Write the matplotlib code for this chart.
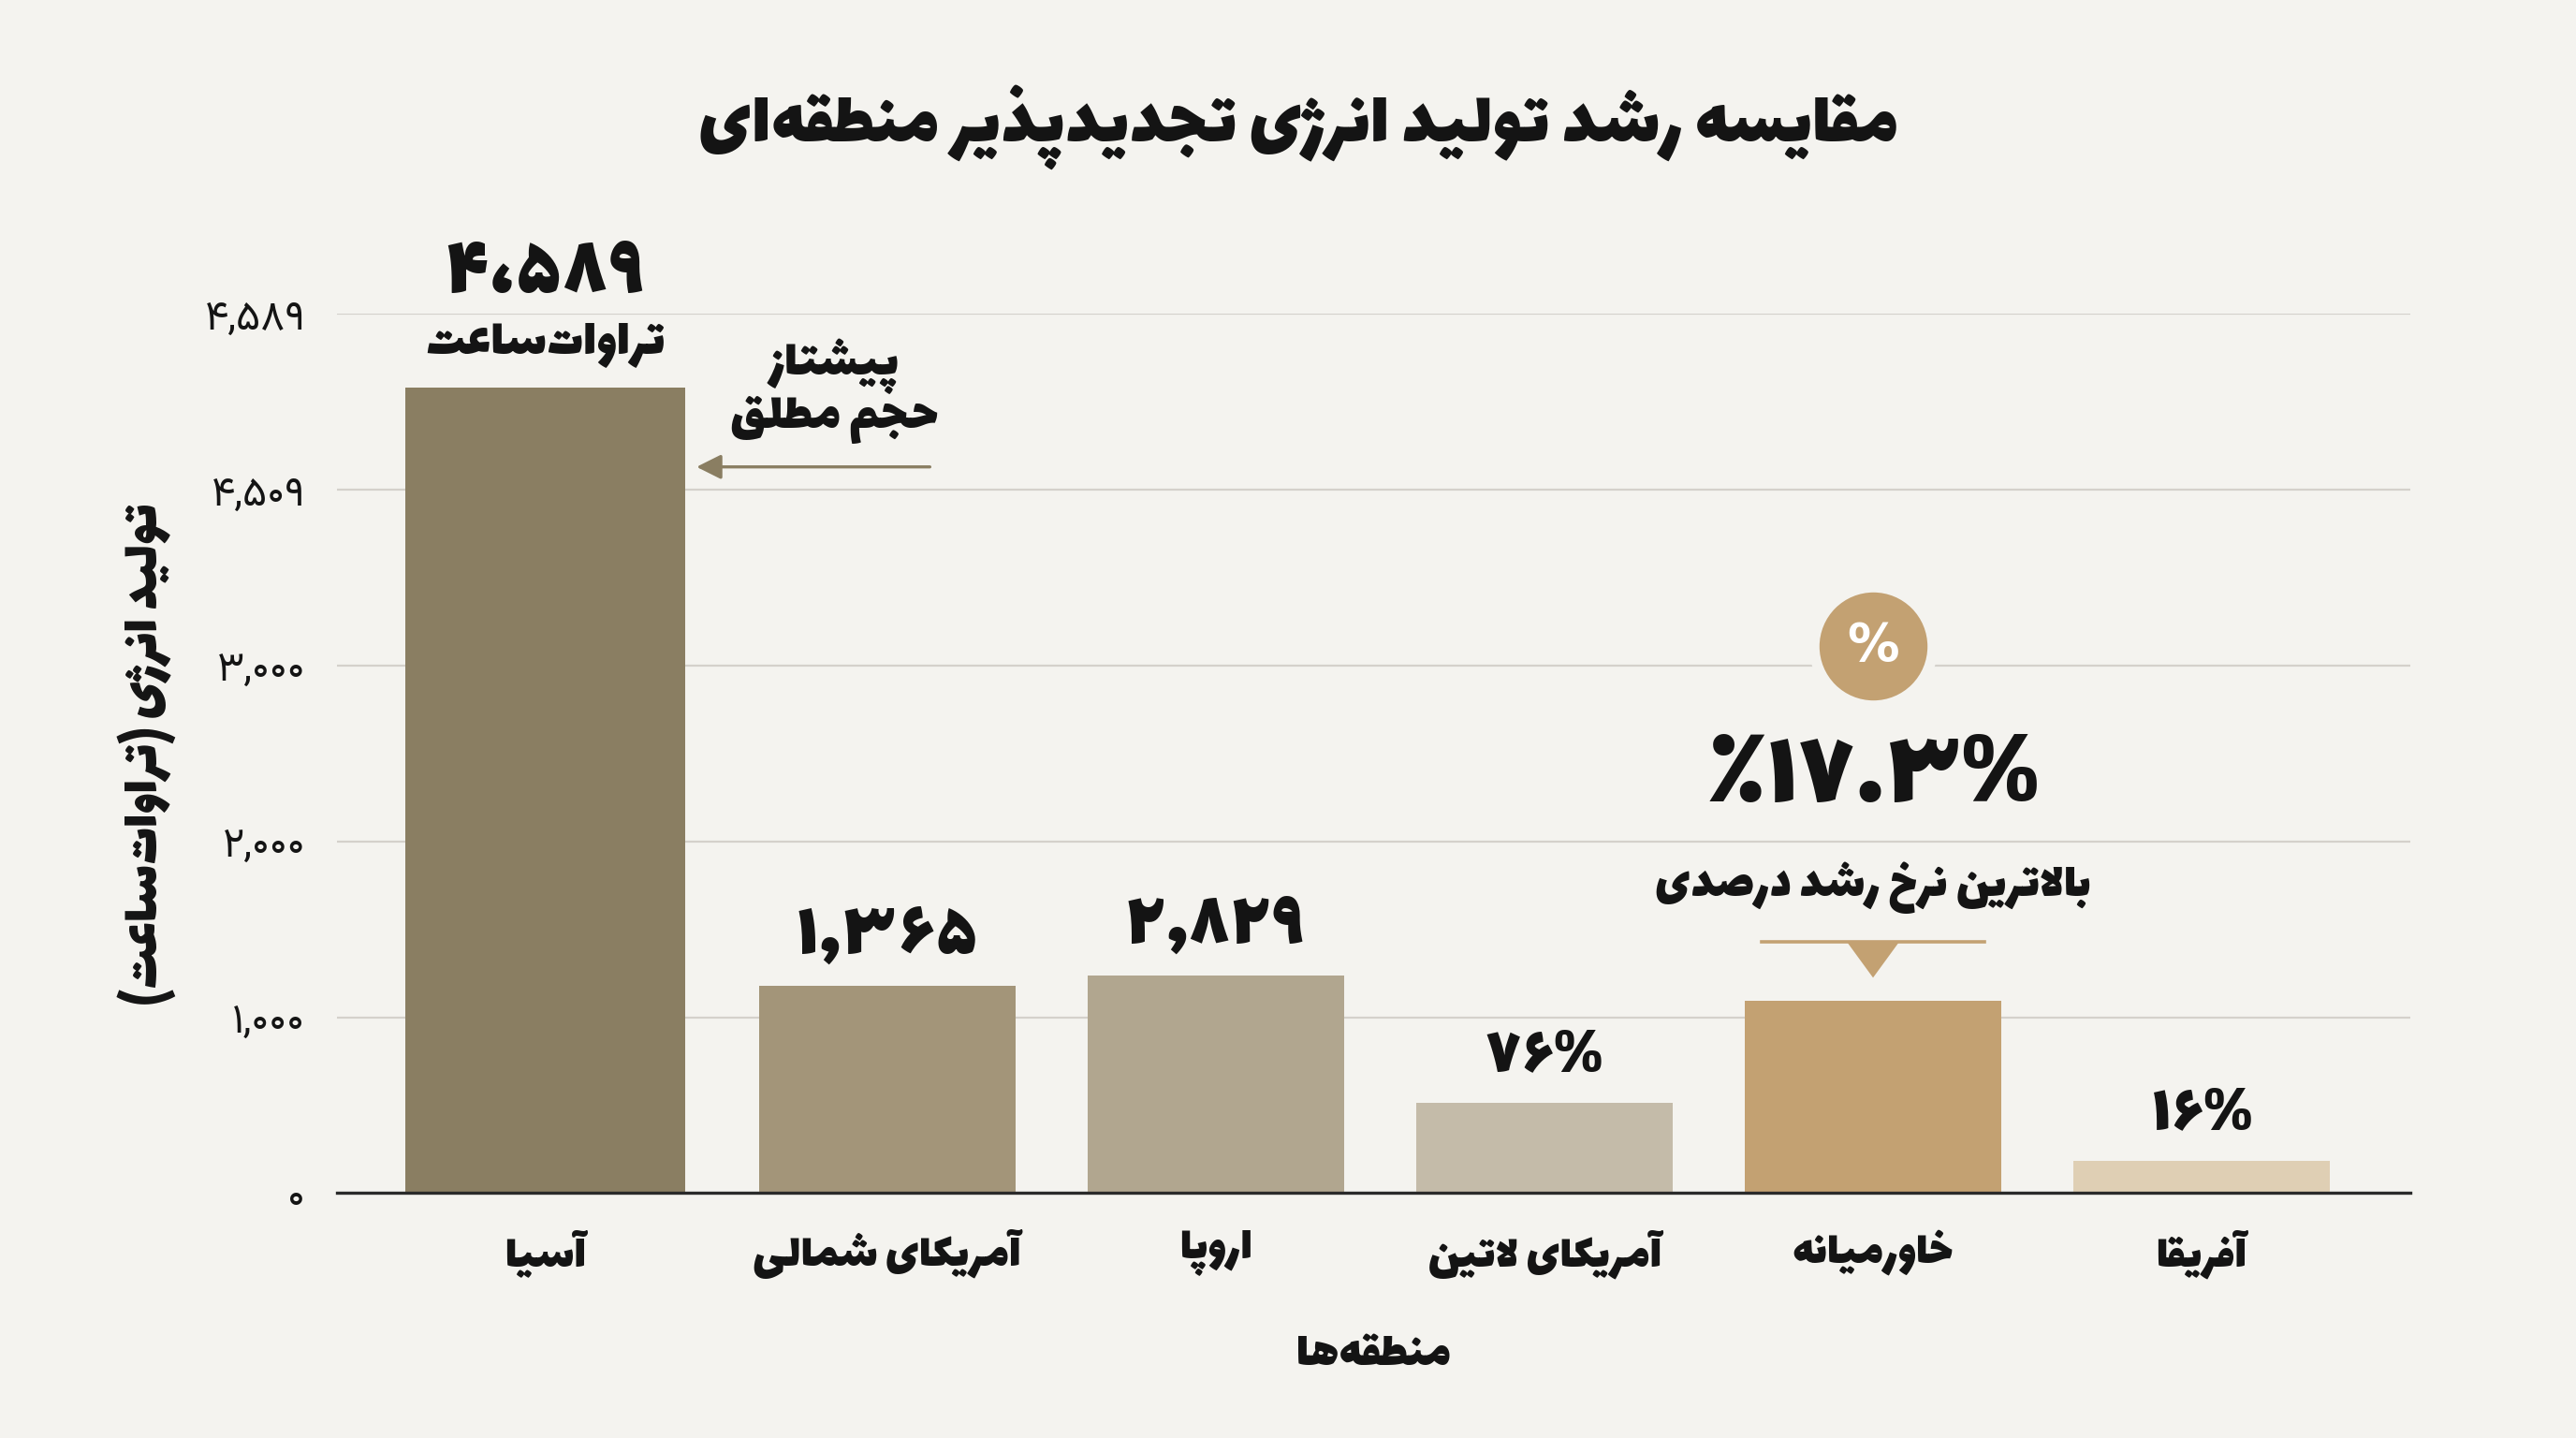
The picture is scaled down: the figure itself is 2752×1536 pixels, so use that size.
import matplotlib
matplotlib.use("Agg")
import matplotlib.pyplot as plt
from matplotlib import font_manager
from matplotlib.ft2font import FT2Font

# --- data -----------------------------------------------------------------
regions = ["آسیا", "آمریکای شمالی", "اروپا", "آمریکای لاتین", "خاورمیانه", "آفریقا"]
bar_heights = [4580, 1180, 1235, 515, 1095, 185]
bar_labels = ["۴،۵۸۹", "۱,۳۶۵", "۲,۸۲۹", "۷۶%", "", "۱۶%"]
bar_colors = ["#8A7E62", "#A39579", "#B1A68F", "#C4BBA9", "#C3A172", "#DFCFB4"]
tick_values = [0, 1000, 2000, 3000, 4000, 5000]
tick_labels = ["۰", "۱,۰۰۰", "۲,۰۰۰", "۳,۰۰۰", "۴,۵۰۹", "۴,۵۸۹"]

title = "مقایسه رشد تولید انرژی تجدیدپذیر منطقه‌ای"
y_title = "تولید انرژی (تراوات‌ساعت)"
x_title = "منطقه‌ها"
unit = "تراوات‌ساعت"
lead_note = ["پیشتاز", "حجم مطلق"]
growth_value = "٪۱۷.۳%"
growth_note = "بالاترین نرخ رشد درصدی"
growth_idx = 4

BG = "#F4F3EF"
INK = "#141414"
HEAVY = ["Lalezar", "DejaVu Sans"]
PLAIN = ["Vazirmatn", "DejaVu Sans"]

# --- minimal Persian shaping: matplotlib has no bidi / joining -------------
FOUR = {"\u0626": 0xFE89, "\u0628": 0xFE8F, "\u062A": 0xFE95, "\u062B": 0xFE99, "\u062C": 0xFE9D,
        "\u062D": 0xFEA1, "\u062E": 0xFEA5, "\u0633": 0xFEB1, "\u0634": 0xFEB5, "\u0635": 0xFEB9,
        "\u0636": 0xFEBD, "\u0637": 0xFEC1, "\u0638": 0xFEC5, "\u0639": 0xFEC9, "\u063A": 0xFECD,
        "\u0641": 0xFED1, "\u0642": 0xFED5, "\u0643": 0xFED9, "\u0644": 0xFEDD, "\u0645": 0xFEE1,
        "\u0646": 0xFEE5, "\u0647": 0xFEE9, "\u064A": 0xFEF1, "\u067E": 0xFB56, "\u0686": 0xFB7A,
        "\u06A9": 0xFB8E, "\u06AF": 0xFB92, "\u06CC": 0xFBFC}
TWO = {"\u0622": 0xFE81, "\u0623": 0xFE83, "\u0624": 0xFE85, "\u0625": 0xFE87, "\u0627": 0xFE8D,
       "\u0629": 0xFE93, "\u062F": 0xFEA9, "\u0630": 0xFEAB, "\u0631": 0xFEAD, "\u0632": 0xFEAF,
       "\u0648": 0xFEED, "\u0649": 0xFEEF, "\u0698": 0xFB8A}
LAM_ALEF = {"\u0627": 0xFEFB, "\u0622": 0xFEF5, "\u0623": 0xFEF7, "\u0625": 0xFEF9}
MIRROR = {"(": ")", ")": "("}

try:
    _path = font_manager.findfont(font_manager.FontProperties(family=HEAVY[0]))
    HEAVY_CMAP = set(FT2Font(_path).get_charmap())
except Exception:
    HEAVY_CMAP = set()


def pick(form, base):
    # isolated form == default glyph of the base letter; fall back to it if the font lacks the form
    if HEAVY_CMAP and form not in HEAVY_CMAP:
        return base
    return chr(form)


def fa(text):
    out = []
    i, n = 0, len(text)
    while i < n:
        c = text[i]
        joins_prev = i > 0 and text[i - 1] in FOUR
        if c == "\u0644" and i + 1 < n and text[i + 1] in LAM_ALEF:
            out.append(chr(LAM_ALEF[text[i + 1]] + (1 if joins_prev else 0)))
            i += 2
            continue
        nxt = text[i + 1] if i + 1 < n else ""
        joins_next = nxt in FOUR or nxt in TWO
        if c in FOUR:
            base = FOUR[c]
            if joins_prev and joins_next:
                out.append(pick(base + 3, c))
            elif joins_next:
                out.append(pick(base + 2, c))
            elif joins_prev:
                out.append(pick(base + 1, c))
            else:
                out.append(c)
        elif c in TWO:
            out.append(pick(TWO[c] + 1, c) if joins_prev else c)
        elif c != "\u200c":
            out.append(c)
        i += 1
    return "".join(MIRROR.get(ch, ch) for ch in reversed(out))


fig = plt.figure(figsize=(27.52, 15.36), dpi=100, facecolor=BG)
ax = fig.add_axes([0.1307, 0.1703, 0.805, 0.6114])
ax.set_facecolor(BG)

x = [float(i) for i in range(len(regions))]
x[0] -= 0.04
widths = [0.85] + [0.78] * (len(regions) - 1)
ax.bar(x, bar_heights, width=widths, color=bar_colors, zorder=2)

ax.set_xlim(-0.675, 5.635)
ax.set_ylim(0, 5000)
ax.set_yticks(tick_values)
ax.set_yticklabels(tick_labels, family=PLAIN, fontsize=32, color=INK)
ax.set_xticks(x)
ax.set_xticklabels([fa(r) for r in regions], family=HEAVY, fontsize=38, color=INK)
ax.tick_params(axis="y", length=0, pad=24)
ax.tick_params(axis="x", length=0, pad=28)
ax.grid(axis="y", color="#D4D1CB", linewidth=1.6, zorder=0)
for side in ["top", "right", "left"]:
    ax.spines[side].set_visible(False)
ax.spines["bottom"].set_color("#2A2A2A")
ax.spines["bottom"].set_linewidth(2.4)
ax.spines["bottom"].set_zorder(3)

ax.set_ylabel(fa(y_title), family=HEAVY, fontsize=43, color=INK, labelpad=22)
ax.set_xlabel(fa(x_title), family=HEAVY, fontsize=40, color=INK, labelpad=42)
fig.text(0.504, 0.912, fa(title), family=HEAVY, fontsize=60, color=INK, ha="center", va="center")

# value labels above bars
for i, (h, lab) in enumerate(zip(bar_heights, bar_labels)):
    if not lab or i == 0:
        continue
    size = 62 if i in (1, 2) else 54
    ax.text(x[i], h + 120, lab, family=HEAVY, fontsize=size, color=INK, ha="center", va="bottom", zorder=4)

# Asia: big number with unit
ax.text(x[0], bar_heights[0] + 660, bar_labels[0], family=HEAVY, fontsize=68, color=INK,
        ha="center", va="center", zorder=4,
        bbox=dict(facecolor=BG, edgecolor="none", pad=6))
ax.text(x[0], bar_heights[0] + 245, fa(unit), family=HEAVY, fontsize=42, color=INK,
        ha="center", va="center", zorder=4,
        bbox=dict(facecolor=BG, edgecolor="none", pad=4))

# leader note with arrow
ax.text(0.84, bar_heights[0] + 120, fa(lead_note[0]), family=HEAVY, fontsize=42, color=INK,
        ha="center", va="center", zorder=4)
ax.text(0.84, bar_heights[0] - 185, fa(lead_note[1]), family=HEAVY, fontsize=42, color=INK,
        ha="center", va="center", zorder=4)
ax.annotate("", xy=(0.42, bar_heights[0] - 450), xytext=(1.13, bar_heights[0] - 450),
            arrowprops=dict(arrowstyle="-|>", color="#8A7E62", lw=2.4,
                            mutation_scale=40, shrinkA=0, shrinkB=0), zorder=4)

# growth callout over the Middle East bar
gh = bar_heights[growth_idx]
ax.scatter([growth_idx], [gh + 2015], s=8300, color="#C3A172", zorder=4, clip_on=False,
           edgecolors=BG, linewidths=8)
ax.text(growth_idx, gh + 2015, "%", family="DejaVu Sans", fontweight="bold", fontsize=40,
        color="white", ha="center", va="center", zorder=5)
ax.text(growth_idx, gh + 1280, growth_value, family=HEAVY, fontsize=86, color=INK,
        ha="center", va="center", zorder=4)
ax.text(growth_idx, gh + 640, fa(growth_note), family=HEAVY, fontsize=40, color=INK,
        ha="center", va="center", zorder=4)
ax.plot([growth_idx - 0.34, growth_idx + 0.34], [gh + 335, gh + 335], color="#C3A172",
        lw=2.6, zorder=4)
ax.fill([growth_idx - 0.08, growth_idx + 0.08, growth_idx],
        [gh + 335, gh + 335, gh + 130], color="#C3A172", zorder=4, linewidth=0)

fig.savefig("out.png", dpi=100, facecolor=BG)
